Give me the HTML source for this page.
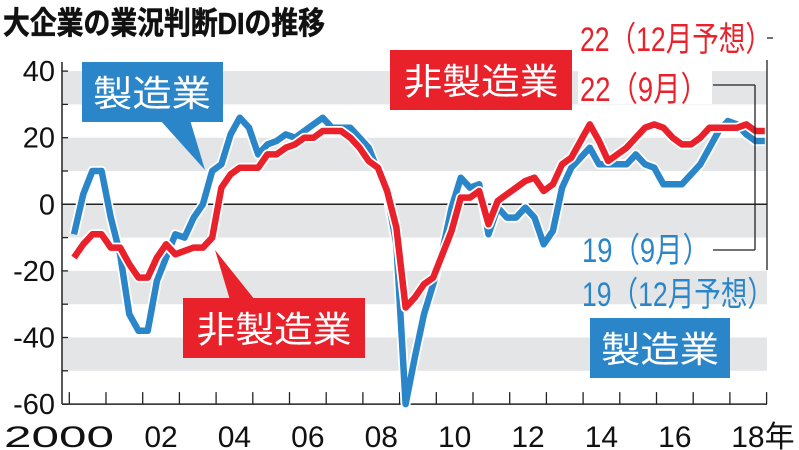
<!DOCTYPE html>
<html><head><meta charset="utf-8">
<style>
html,body{margin:0;padding:0;background:#fff;}
svg{display:block;font-family:"Liberation Sans","Noto Sans CJK JP",sans-serif;}
</style></head>
<body>
<svg id="chart" width="799" height="450" viewBox="0 0 799 450" xmlns="http://www.w3.org/2000/svg">
<text x="3" y="34" font-size="31" font-weight="bold" textLength="322" lengthAdjust="spacingAndGlyphs" fill="#111" stroke="#111" stroke-width="0.6">大企業の業況判断DIの推移</text>
<g id="bands"></g>
<g id="axes"></g>
<g id="series"></g>
<g id="annot">
  <line x1="773" y1="38" x2="767" y2="38" stroke="#222" stroke-width="1.3"/>
  <line x1="767" y1="60" x2="767" y2="270" stroke="#222" stroke-width="1.3"/>
  <line x1="713" y1="85" x2="755" y2="85" stroke="#222" stroke-width="1.3"/>
  <line x1="755" y1="85" x2="755" y2="250" stroke="#222" stroke-width="1.3"/>
  <line x1="713" y1="250" x2="755" y2="250" stroke="#222" stroke-width="1.3"/>

  <rect x="82" y="62" width="141" height="60" fill="#2a86c8"/>
  <polygon points="160,120 190,120 205,170" fill="#2a86c8"/>
  <text x="152" y="106" font-size="36" text-anchor="middle" fill="#fff" textLength="118" lengthAdjust="spacingAndGlyphs">製造業</text>

  <rect x="390" y="50" width="182" height="60" fill="#e8212b"/>
  <text x="481" y="94" font-size="36" text-anchor="middle" fill="#fff" textLength="155" lengthAdjust="spacingAndGlyphs">非製造業</text>

  <rect x="183" y="298" width="182" height="60" fill="#e8212b"/>
  <polygon points="230,300 255,300 215,250" fill="#e8212b"/>
  <text x="274" y="342" font-size="36" text-anchor="middle" fill="#fff" textLength="155" lengthAdjust="spacingAndGlyphs">非製造業</text>

  <rect x="590" y="318" width="140" height="60" fill="#2a86c8"/>
  <text x="660" y="362" font-size="36" text-anchor="middle" fill="#fff" textLength="118" lengthAdjust="spacingAndGlyphs">製造業</text>

  <rect x="578" y="66" width="134" height="38" fill="#fff"/>
  <text x="580" y="51" font-size="34" fill="#e8212b" textLength="192" lengthAdjust="spacingAndGlyphs">22（12月予想）</text>
  <text x="580" y="101" font-size="34" fill="#e8212b" textLength="128" lengthAdjust="spacingAndGlyphs">22（9月）</text>
  <text x="582" y="262" font-size="34" fill="#2a86c8" textLength="128" lengthAdjust="spacingAndGlyphs">19（9月）</text>
  <text x="582" y="306" font-size="34" fill="#2a86c8" textLength="192" lengthAdjust="spacingAndGlyphs">19（12月予想）</text>
</g>
</svg>
<script>
const yTicks = [40, 20, 0, -20, -40, -60];
const yTickLabels = ["40", "20", "0", "-20", "-40", "-60"];
const xYears = [2000, 2002, 2004, 2006, 2008, 2010, 2012, 2014, 2016, 2018];
const xTickLabels = ["2000", "02", "04", "06", "08", "10", "12", "14", "16", "18年"];
const manufacturing = [-9,3,10,10,-4,-15,-33,-38,-38,-23,-16,-9,-10,-4,0,10,12,21,26,23,15,18,19,21,20,22,24,26,23,23,23,20,17,10,3,-12,-60,-46,-33,-24,-14,-1,8,5,6,-9,-1,-4,-4,-1,-4,-12,-8,5,11,14,17,12,12,12,12,15,12,11,6,6,6,9,12,17,22,25,24,21,19,19];
const nonManufacturing = [-16,-12,-9,-9,-13,-13,-18,-22,-22,-16,-12,-15,-14,-13,-13,-10,5,9,11,11,11,15,15,17,18,20,20,22,22,22,20,17,13,11,4,-7,-31,-28,-24,-22,-15,-8,2,2,4,-6,1,3,5,7,8,4,6,12,14,19,24,19,13,15,17,20,23,24,23,20,18,18,20,23,23,23,23,24,22,22];

const NS = "http://www.w3.org/2000/svg";
const L = 62, R = 767, Y0 = 204.3, PX = 3.33;
function yScale(v){ return Y0 - v * PX; }
function xYear(yr){ return 69.3 + (yr - 2000) * 36.7; }
function xQuarter(i){ return 74 + i * 9.21; }
function mk(tag, attrs, parent){ const e = document.createElementNS(NS, tag); for (const k in attrs) e.setAttribute(k, attrs[k]); parent.appendChild(e); return e; }

const bands = document.getElementById('bands');
for (let v = 40; v > -60; v -= 20) {
  const r = mk('rect', {x: L, y: yScale(v), width: R - L, height: 10 * PX, fill: '#e4e5e7'}, bands);
  
  
}
const axes = document.getElementById('axes');
const zl = mk('line', {x1: L, x2: R, y1: yScale(0), y2: yScale(0), stroke: '#222', 'stroke-width': 1.5}, axes);


const ya = mk('line', {x1: L, x2: L, y1: 62, y2: yScale(-60), stroke: '#222', 'stroke-width': 1.5}, axes);


const xa = mk('line', {x1: L, x2: R, y1: yScale(-60), y2: yScale(-60), stroke: '#222', 'stroke-width': 1.5}, axes);


for (let v = 40; v >= -60; v -= 10) {
  const t = mk('line', {x1: L, x2: L + 6, y1: yScale(v), y2: yScale(v), stroke: '#222', 'stroke-width': 1.3}, axes);
  
  
}
yTicks.forEach((v, i) => {
  const t = mk('text', {x: 55, y: yScale(v) + 10, 'font-size': 29, 'text-anchor': 'end', fill: '#111'}, axes);
  t.textContent = yTickLabels[i];
  
  
});
for (let yr = 2000; yr <= 2019; yr++) {
  const t = mk('line', {x1: xYear(yr), x2: xYear(yr), y1: yScale(-60) - 12, y2: yScale(-60), stroke: '#222', 'stroke-width': 1.3}, axes);
  
  
}
xYears.forEach((yr, i) => {
  const cx = xYear(yr) + 18.35;
  let attrs = {x: cx, y: 447, 'font-size': 30, 'text-anchor': 'middle', fill: '#111'};
  if (i === 0) { attrs.x = 4; attrs['text-anchor'] = 'start'; attrs.textLength = 110; attrs.lengthAdjust = 'spacingAndGlyphs'; }
  if (i === xYears.length - 1) { attrs.x = cx - 17; attrs['text-anchor'] = 'start'; }
  const t = mk('text', attrs, axes);
  t.textContent = xTickLabels[i];
  
  
});
const series = document.getElementById('series');
function pts(arr){ return arr.map((v, i) => xQuarter(i).toFixed(1) + ',' + yScale(v).toFixed(1)).join(' '); }
[[manufacturing, '#2a86c8', 'manufacturing-line'], [nonManufacturing, '#e8212b', 'non-manufacturing-line']].forEach(s => {
  const o = mk('polyline', {points: pts(s[0]), fill: 'none', stroke: '#fff', 'stroke-width': 10, 'stroke-linejoin': 'round'}, series);
  
  
  const p = mk('polyline', {points: pts(s[0]), fill: 'none', stroke: s[1], 'stroke-width': 6.5, 'stroke-linejoin': 'round'}, series);
  
  
});
</script>
</body></html>
